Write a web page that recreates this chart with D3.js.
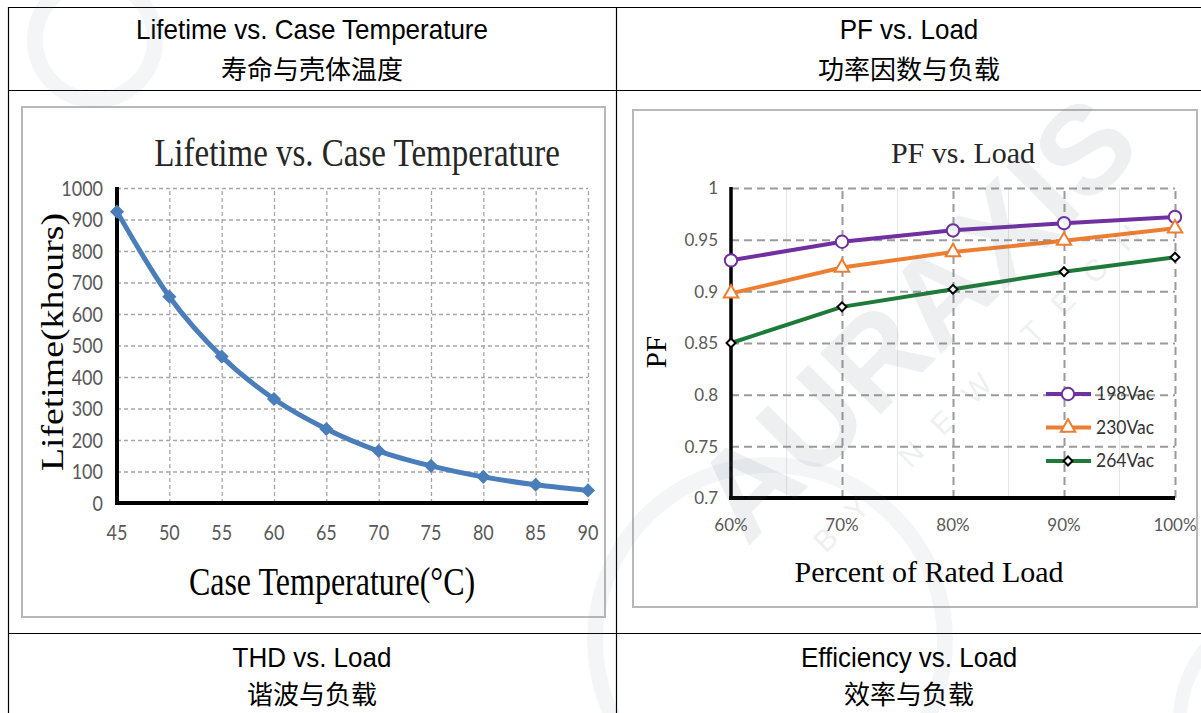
<!DOCTYPE html>
<html>
<head>
<meta charset="utf-8">
<script src="https://cdn.jsdelivr.net/npm/d3@7"></script>
<style>
  body { margin: 0; background: #fff; }
  svg { display: block; }
</style>
</head>
<body>
<svg id="chart" width="1201" height="713"></svg>
<script>
// lifetime chart data
var temps = [45, 50, 55, 60, 65, 70, 75, 80, 85, 90]
var lifetime = [925, 655, 465, 330, 235, 165, 118, 83, 58, 40]
var lifeTicks = [0, 100, 200, 300, 400, 500, 600, 700, 800, 900, 1000]

// pf chart data
var loads = [60, 70, 80, 90, 100]
var pf198 = [0.930, 0.948, 0.959, 0.966, 0.972]
var pf230 = [0.898, 0.923, 0.938, 0.949, 0.961]
var pf264 = [0.850, 0.885, 0.902, 0.919, 0.933]
var pfTicks = [0.7, 0.75, 0.8, 0.85, 0.9, 0.95, 1]
var seriesNames = ["198Vac", "230Vac", "264Vac"]

var headers = [
  ["Lifetime vs. Case Temperature", "寿命与壳体温度"],
  ["PF vs. Load", "功率因数与负载"],
  ["THD vs. Load", "谐波与负载"],
  ["Efficiency vs. Load", "效率与负载"]
]

var svg = d3.select('#chart')
var serif = "'Liberation Serif', 'DejaVu Serif', serif"
var sans = "Lato, 'Liberation Sans', sans-serif"

// text placed at x,y with vertical stretch sy (the left picture is a bit tall)
function label(g, x, y, txt, size, font, anchor, fill, sy){
  return g.append('text')
    .attr("transform", "translate(" + x + "," + y + ") scale(1," + (sy || 1) + ")")
    .attr("dy", "0.35em")
    .attr("text-anchor", anchor || "middle")
    .attr("font-family", font).attr("font-size", size).attr("fill", fill || "#000")
    .text(txt)
}

// ---- table ----
var table = svg.append('g').attr("stroke", "#000").attr("stroke-width", 1.2)
table.append('line').attr("x1", 8).attr("x2", 1201).attr("y1", 7.5).attr("y2", 7.5)
table.append('line').attr("x1", 8).attr("x2", 1201).attr("y1", 90.5).attr("y2", 90.5)
table.append('line').attr("x1", 8).attr("x2", 1201).attr("y1", 633.5).attr("y2", 633.5)
table.append('line').attr("x1", 8.5).attr("x2", 8.5).attr("y1", 7).attr("y2", 713)
table.append('line').attr("x1", 616.5).attr("x2", 616.5).attr("y1", 7).attr("y2", 713)

var headerPos = [[312, 29, 70], [909, 29, 70], [312, 657, 695], [909, 657, 695]]
headers.forEach(function(h, i){
  var p = headerPos[i]
  label(svg, p[0], p[1], h[0], 26, "'Liberation Sans', Arial, sans-serif", "middle", "#000", 1.05)
  label(svg, p[0], p[2], h[1], 26, "'Noto Sans CJK SC', sans-serif", "middle", "#000", 1)
})

// ---- chart frames ----
svg.append('rect').attr("x", 22).attr("y", 107).attr("width", 583).attr("height", 510)
  .attr("fill", "#fff").attr("stroke", "#b8b8b8").attr("stroke-width", 2)
svg.append('rect').attr("x", 633).attr("y", 110).attr("width", 564).attr("height", 497)
  .attr("fill", "#fff").attr("stroke", "#b8b8b8").attr("stroke-width", 2)

// ---- lifetime chart ----
function lifetimeChart(){
  var x = d3.scaleLinear().domain([45, 90]).range([117, 588])
  var y = d3.scaleLinear().domain([0, 1000]).range([503, 188])
  var g = svg.append('g')
  var sy = 1.22

  g.append('g').attr("transform", "translate(117,0)")
    .call(d3.axisLeft(y).tickValues(lifeTicks).tickSize(-(588 - 117)).tickFormat(""))
    .call(function(s){
      s.select('.domain').remove()
      s.selectAll('line').attr("stroke", "#a6a6a6").attr("stroke-dasharray", "4,3").attr("stroke-width", 1.3)
    })
  g.append('g').attr("transform", "translate(0,503)")
    .call(d3.axisBottom(x).tickValues(temps).tickSize(-(503 - 188)).tickFormat(""))
    .call(function(s){
      s.select('.domain').remove()
      s.selectAll('line').attr("stroke", "#a6a6a6").attr("stroke-dasharray", "4,3").attr("stroke-width", 1.3)
    })

  // axis lines
  g.append('line').attr("x1", x(45)).attr("x2", x(45)).attr("y1", y(1000) - 1).attr("y2", y(0) + 2)
    .attr("stroke", "#000").attr("stroke-width", 4)
  g.append('line').attr("x1", x(45) - 2).attr("x2", x(90)).attr("y1", y(0)).attr("y2", y(0))
    .attr("stroke", "#000").attr("stroke-width", 4)

  lifeTicks.forEach(function(d){
    label(g, 103, y(d), d, 18, sans, "end", "#595959", sy)
  })
  temps.forEach(function(d){
    label(g, x(d), 532, d, 18, sans, "middle", "#595959", sy)
  })

  var pts = temps.map(function(t, i){ return [t, lifetime[i]] })
  g.append('path').datum(pts)
    .attr("d", d3.line().x(function(d){ return x(d[0]) }).y(function(d){ return y(d[1]) }).curve(d3.curveMonotoneX))
    .attr("fill", "none").attr("stroke", "#4a7ebb").attr("stroke-width", 5)
  g.selectAll('.mk').data(pts).enter().append('path')
    .attr("d", d3.symbol().type(d3.symbolSquare).size(100))
    .attr("transform", function(d){ return "translate(" + x(d[0]) + "," + y(d[1]) + ") rotate(45)" })
    .attr("fill", "#4a7ebb")

  label(g, 357, 152, "Lifetime vs. Case Temperature", 33, serif, "middle", "#262626", sy)
  label(g, 332, 581, "Case Temperature(°C)", 32, serif, "middle", "#000", sy)
  g.append('text').attr("transform", "translate(52,342) rotate(-90) scale(1.22,1)").attr("dy", "0.35em")
    .attr("text-anchor", "middle").attr("font-family", serif).attr("font-size", 31).attr("fill", "#000")
    .text("Lifetime(khours)")
}

// ---- pf chart ----
function pfChart(){
  var x = d3.scaleLinear().domain([60, 100]).range([731, 1175])
  var y = d3.scaleLinear().domain([0.7, 1]).range([498, 188])
  var g = svg.append('g')

  // minor vertical lines
  g.selectAll('.minor').data([65, 75, 85, 95]).enter().append('line')
    .attr("x1", function(d){ return x(d) }).attr("x2", function(d){ return x(d) })
    .attr("y1", y(1)).attr("y2", y(0.7)).attr("stroke", "#e6e6e6").attr("stroke-width", 1)

  g.append('g').attr("transform", "translate(731,0)")
    .call(d3.axisLeft(y).tickValues(pfTicks).tickSize(-(1175 - 731)).tickFormat(""))
    .call(function(s){
      s.select('.domain').remove()
      s.selectAll('line').attr("stroke", "#9a9a9a").attr("stroke-dasharray", "8,5").attr("stroke-width", 2)
    })
  g.append('g').attr("transform", "translate(0,498)")
    .call(d3.axisBottom(x).tickValues(loads.slice(1)).tickSize(-(498 - 188)).tickFormat(""))
    .call(function(s){
      s.select('.domain').remove()
      s.selectAll('line').attr("stroke", "#9a9a9a").attr("stroke-dasharray", "8,5").attr("stroke-width", 2)
    })

  g.append('line').attr("x1", x(60)).attr("x2", x(60)).attr("y1", y(1) - 1).attr("y2", y(0.7) + 2)
    .attr("stroke", "#000").attr("stroke-width", 3.5)
  g.append('line').attr("x1", x(60) - 2).attr("x2", x(100)).attr("y1", y(0.7)).attr("y2", y(0.7))
    .attr("stroke", "#000").attr("stroke-width", 4)

  pfTicks.forEach(function(d){
    label(g, 718, y(d), d, 17, sans, "end", "#595959", 1.05)
  })
  loads.forEach(function(d){
    label(g, x(d), 525, d + "%", 17, sans, "middle", "#595959", 1.05)
  })

  var series = [
    { name: seriesNames[0], vals: pf198, color: "#7030a0", sym: d3.symbolCircle, size: 120, rot: 0 },
    { name: seriesNames[1], vals: pf230, color: "#ed7d31", sym: d3.symbolTriangle, size: 90, rot: 0 },
    { name: seriesNames[2], vals: pf264, color: "#1e7a38", sym: d3.symbolSquare, size: 40, rot: 45 }
  ]
  var line = d3.line().x(function(d){ return x(d[0]) }).y(function(d){ return y(d[1]) })

  series.forEach(function(s, i){
    var pts = loads.map(function(l, j){ return [l, s.vals[j]] })
    g.append('path').datum(pts).attr("d", line)
      .attr("fill", "none").attr("stroke", s.color).attr("stroke-width", 4)
    g.selectAll('.m' + i).data(pts).enter().append('path')
      .attr("d", d3.symbol().type(s.sym).size(s.size))
      .attr("transform", function(d){ return "translate(" + x(d[0]) + "," + y(d[1]) + ") rotate(" + s.rot + ")" })
      .attr("fill", "#fff").attr("stroke", i == 2 ? "#000" : s.color).attr("stroke-width", 2)

    // legend
    var ly = 394 + i * 33.5
    g.append('line').attr("x1", 1046).attr("x2", 1091).attr("y1", ly).attr("y2", ly)
      .attr("stroke", s.color).attr("stroke-width", 4)
    g.append('path').attr("d", d3.symbol().type(s.sym).size(s.size))
      .attr("transform", "translate(1068," + ly + ") rotate(" + s.rot + ")")
      .attr("fill", "#fff").attr("stroke", i == 2 ? "#000" : s.color).attr("stroke-width", 2)
    label(g, 1096, ly, s.name, 17.5, sans, "start", "#333", 1.05)
  })

  label(g, 963, 152, "PF vs. Load", 30, serif, "middle", "#262626", 1)
  label(g, 929, 571, "Percent of Rated Load", 30, serif, "middle", "#000", 1)
  g.append('text').attr("transform", "translate(656,352) rotate(-90)").attr("dy", "0.35em")
    .attr("text-anchor", "middle").attr("font-family", serif).attr("font-size", 29).attr("fill", "#000")
    .text("PF")
}

lifetimeChart()
pfChart()

// ---- watermark, laid over everything (faint) ----
var wm = svg.append('g').attr("opacity", 0.08).attr("fill", "none").attr("stroke", "#6d7f99")
wm.append('circle').attr("cx", 95).attr("cy", 40).attr("r", 60).attr("stroke-width", 16)
wm.append('circle').attr("cx", 770).attr("cy", 640).attr("r", 175).attr("stroke-width", 16)
wm.append('circle').attr("cx", 1290).attr("cy", 720).attr("r", 110).attr("stroke-width", 14)
svg.append('text')
  .attr("transform", "translate(915,318) rotate(-45)")
  .attr("text-anchor", "middle").attr("dy", "0.35em")
  .attr("font-family", "'Liberation Sans', sans-serif")
  .attr("font-weight", "bold")
  .attr("font-size", 125)
  .attr("fill", "#5b6b80")
  .attr("opacity", 0.1)
  .text("AURAXIS")
svg.append('text')
  .attr("transform", "translate(985,380) rotate(-45)")
  .attr("text-anchor", "middle").attr("dy", "0.35em")
  .attr("font-family", "'Liberation Sans', sans-serif")
  .attr("font-size", 30)
  .attr("letter-spacing", 24)
  .attr("fill", "#5b6b80")
  .attr("opacity", 0.1)
  .text("BY NEW TECH")
</script>
</body>
</html>
